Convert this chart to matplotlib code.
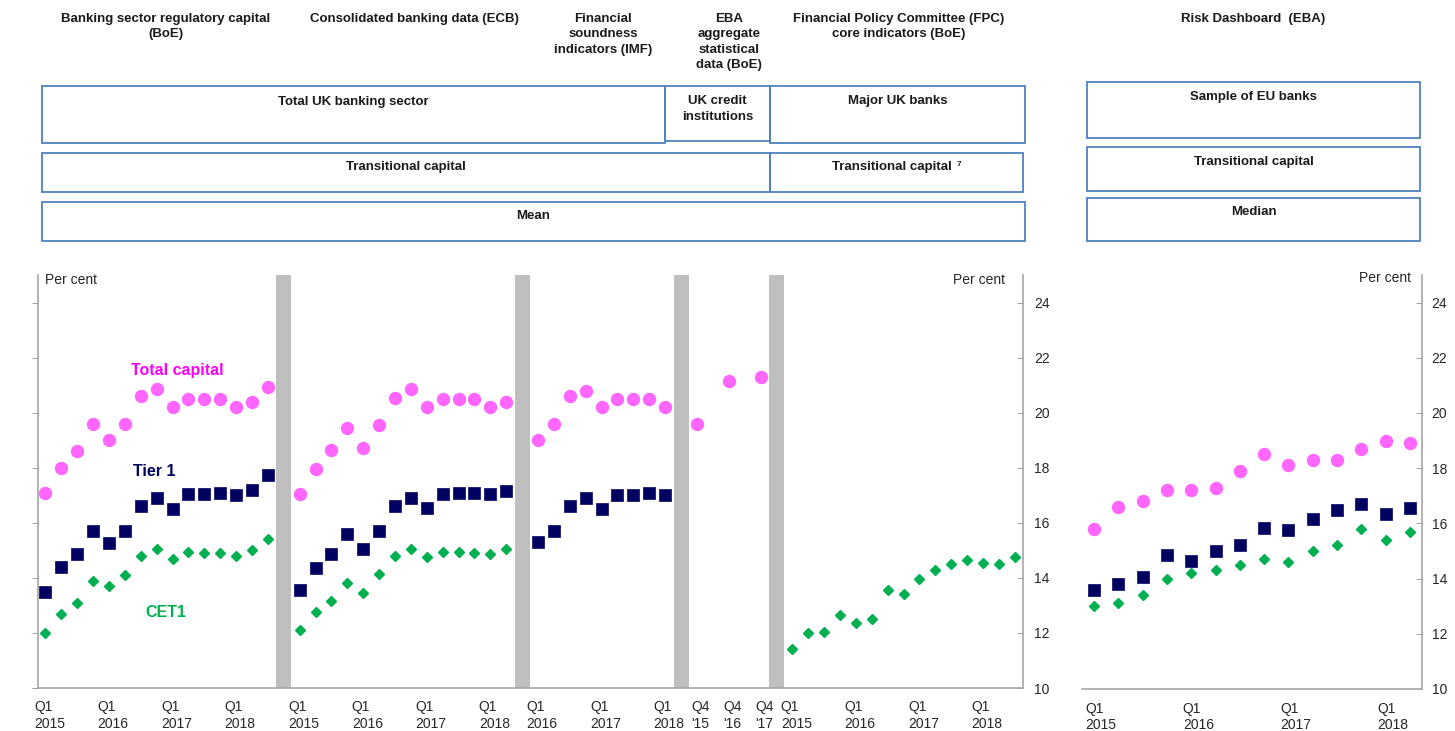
import numpy as np
import matplotlib.pyplot as plt
import matplotlib.transforms as mtransforms
from matplotlib.patches import Rectangle

plt.rcParams['font.family'] = ['Liberation Sans', 'DejaVu Sans']

W, H = 1455, 731
fig = plt.figure(figsize=(14.55, 7.31), dpi=100)


def fx(px):
    return px / W


def fy(py):
    return 1 - py / H


# ---- data (per cent) ----
boe_total = [17.1, 18.0, 18.6, 19.6, 19.0, 19.6, 20.6, 20.85, 20.2, 20.5, 20.5, 20.5, 20.2, 20.4, 20.95]
boe_tier1 = [13.5, 14.4, 14.85, 15.7, 15.25, 15.7, 16.6, 16.9, 16.5, 17.05, 17.05, 17.1, 17.0, 17.2, 17.75]
boe_cet1 = [12.0, 12.7, 13.1, 13.9, 13.7, 14.1, 14.8, 15.05, 14.7, 14.95, 14.9, 14.9, 14.8, 15.0, 15.4]

ecb_total = [17.05, 17.95, 18.65, 19.45, 18.7, 19.55, 20.55, 20.85, 20.2, 20.5, 20.5, 20.5, 20.2, 20.4]
ecb_tier1 = [13.55, 14.35, 14.85, 15.6, 15.05, 15.7, 16.6, 16.9, 16.55, 17.05, 17.1, 17.1, 17.05, 17.15]
ecb_cet1 = [12.1, 12.75, 13.15, 13.8, 13.45, 14.15, 14.8, 15.05, 14.75, 14.95, 14.95, 14.9, 14.85, 15.05]

imf_total = [19.0, 19.6, 20.6, 20.8, 20.2, 20.5, 20.5, 20.5, 20.2]
imf_tier1 = [15.3, 15.7, 16.6, 16.9, 16.5, 17.0, 17.0, 17.1, 17.0]

eba_ticks = ["Q4\n'15", "", "Q4\n'16", "", "Q4\n'17"]
eba_total = [19.6, None, 21.15, None, 21.3]

fpc_cet1 = [11.4, 12.0, 12.05, 12.65, 12.35, 12.5, 13.55, 13.4, 13.95, 14.3, 14.5, 14.65, 14.55, 14.5, 14.75]

eu_total = [15.8, 16.6, 16.8, 17.2, 17.2, 17.3, 17.9, 18.5, 18.1, 18.3, 18.3, 18.7, 19.0, 18.9]
eu_tier1 = [13.6, 13.8, 14.05, 14.85, 14.65, 15.0, 15.2, 15.85, 15.75, 16.15, 16.5, 16.7, 16.35, 16.55]
eu_cet1 = [13.0, 13.1, 13.4, 14.0, 14.2, 14.3, 14.5, 14.7, 14.6, 15.0, 15.2, 15.8, 15.4, 15.7]


def quarter_ticks(year, q, n):
    # only label the first quarter of each year
    out = []
    for _ in range(n):
        out.append(f'Q1\n{year}' if q == 1 else '')
        q += 1
        if q > 4:
            q = 1
            year += 1
    return out


def nudge(axis_obj, dx_px):
    # shift tick labels sideways a few pixels
    off = mtransforms.ScaledTranslation(dx_px / 100, 0, fig.dpi_scale_trans)
    for lab in axis_obj.get_xticklabels():
        lab.set_transform(lab.get_transform() + off)


styles = {
    'total': dict(marker='o', ms=8.6, color='#FF66FF', mec='#FF66FF'),
    'tier1': dict(marker='s', ms=8.4, color='#000060', mec='#1a1a70', mew=0.6),
    'cet1': dict(marker='D', ms=5.3, color='#00B050', mec='#00B050'),
}

segments = [
    (quarter_ticks(2015, 1, 15), {'total': boe_total, 'tier1': boe_tier1, 'cet1': boe_cet1}),
    (quarter_ticks(2015, 1, 14), {'total': ecb_total, 'tier1': ecb_tier1, 'cet1': ecb_cet1}),
    (quarter_ticks(2016, 1, 9), {'total': imf_total, 'tier1': imf_tier1}),
    (eba_ticks, {'total': eba_total}),
    (quarter_ticks(2015, 1, 15), {'cet1': fpc_cet1}),
]

spine_col = '#A6A6A6'
tick_col = '#262626'

# ---- main panel ----
ax = fig.add_axes([fx(37.5), fy(688), fx(1022.7) - fx(37.5), fy(275) - fy(688)])
pos = 0
gaps, tpos, tlab = [], [], []
for i, (labels, series) in enumerate(segments):
    x = np.arange(pos, pos + len(labels))
    for key, vals in series.items():
        v = np.array([np.nan if a is None else a for a in vals], dtype=float)
        ax.plot(x, v, ls='none', zorder=3, **styles[key])
    tpos.extend(x)
    tlab.extend(labels)
    pos += len(labels)
    if i < len(segments) - 1:
        gaps.append(pos)
        pos += 1

ax.bar(gaps, 15, bottom=10, width=0.95, color='#BFBFBF', zorder=1)
ax.set_xlim(-0.5, pos - 0.5)
ax.set_ylim(10, 25)
ax.set_xticks(tpos)
ax.set_xticklabels(tlab, fontsize=10, color=tick_col, linespacing=1.2, multialignment='left')
ax.tick_params(axis='x', length=0, pad=9)
nudge(ax, 4)
ax.set_yticks(np.arange(10, 25, 2))
ax.tick_params(axis='y', direction='out', length=4, color=spine_col, labelleft=False)
for s in ['top', 'right']:
    ax.spines[s].set_visible(False)
for s in ['left', 'bottom']:
    ax.spines[s].set_color(spine_col)
    ax.spines[s].set_linewidth(1.2)

ax2 = ax.twinx()
ax2.set_ylim(10, 25)
ax2.set_yticks(np.arange(10, 25, 2))
ax2.tick_params(axis='y', direction='in', length=4, color=spine_col, pad=8,
                labelsize=10, labelcolor=tick_col)
for s in ['top', 'left', 'bottom']:
    ax2.spines[s].set_visible(False)
ax2.spines['right'].set_color(spine_col)
ax2.spines['right'].set_linewidth(1.2)

ax.text(8.33, 21.53, 'Total capital', color='#FF00FF', fontsize=11.5, fontweight='bold',
        ha='center', va='center', zorder=4)
ax.text(6.86, 17.85, 'Tier 1', color='#000060', fontsize=11.5, fontweight='bold',
        ha='center', va='center', zorder=4)
ax.text(7.6, 12.76, 'CET1', color='#00B050', fontsize=11.5, fontweight='bold',
        ha='center', va='center', zorder=4)

# ---- right panel (EBA risk dashboard) ----
axr = fig.add_axes([fx(1082), fy(689), fx(1422) - fx(1082), fy(275) - fy(689)])
xr = np.arange(len(eu_total))
axr.plot(xr, eu_total, ls='none', zorder=3, **styles['total'])
axr.plot(xr, eu_tier1, ls='none', zorder=3, **styles['tier1'])
axr.plot(xr, eu_cet1, ls='none', zorder=3, **styles['cet1'])
axr.set_xlim(-0.5, len(eu_total) - 0.5)
axr.set_ylim(10, 25)
axr.set_xticks(xr)
axr.set_xticklabels(quarter_ticks(2015, 1, len(eu_total)), fontsize=10, color=tick_col,
                    linespacing=1.2, multialignment='left')
axr.tick_params(axis='x', length=0, pad=9)
nudge(axr, 7)
axr.yaxis.tick_right()
axr.set_yticks(np.arange(10, 25, 2))
axr.tick_params(axis='y', direction='in', length=4, color=spine_col, pad=7,
                labelsize=10, labelcolor=tick_col)
for s in ['top', 'left']:
    axr.spines[s].set_visible(False)
for s in ['right', 'bottom']:
    axr.spines[s].set_color(spine_col)
    axr.spines[s].set_linewidth(1.2)

fig.text(fx(45), fy(273), 'Per cent', fontsize=10, color=tick_col, ha='left', va='top')
fig.text(fx(1005), fy(273), 'Per cent', fontsize=10, color=tick_col, ha='right', va='top')
fig.text(fx(1411), fy(271), 'Per cent', fontsize=10, color=tick_col, ha='right', va='top')

# ---- headers ----
hdr = dict(fontsize=9.5, fontweight='bold', color='#1a1a1a', ha='center', va='top', linespacing=1.38)
fig.text(fx(166), fy(13), 'Banking sector regulatory capital\n(BoE)', **hdr)
fig.text(fx(414), fy(13), 'Consolidated banking data (ECB)', **hdr)
fig.text(fx(603), fy(13), 'Financial\nsoundness\nindicators (IMF)', **hdr)
fig.text(fx(729), fy(13), 'EBA\naggregate\nstatistical\ndata (BoE)', **hdr)
fig.text(fx(899), fy(13), 'Financial Policy Committee (FPC)\ncore indicators (BoE)', **hdr)
fig.text(fx(1253), fy(13), 'Risk Dashboard  (EBA)', **hdr)

box_col = '#4F81BD'
boxes = [
    (42, 86, 665, 143, 'Total UK banking sector', 102),
    (665, 86, 770, 141, 'UK credit\ninstitutions', 109),
    (770, 86, 1025, 143, 'Major UK banks', 101),
    (42, 153, 770, 192, 'Transitional capital', 167),
    (770, 153, 1023, 192, 'Transitional capital', 167),
    (42, 202, 1025, 241, 'Mean', 216),
    (1087, 82, 1420, 138, 'Sample of EU banks', 97),
    (1087, 147, 1420, 191, 'Transitional capital', 162),
    (1087, 198, 1420, 241, 'Median', 212),
]
for x0, y0, x1, y1, label, ty in boxes:
    fig.add_artist(Rectangle((fx(x0), fy(y1)), fx(x1) - fx(x0), fy(y0) - fy(y1),
                             transform=fig.transFigure, fill=False, ec=box_col, lw=1.3))
    fig.text(fx((x0 + x1) / 2 - (5 if ty == 167 and x0 == 770 else 0)), fy(ty), label,
             fontsize=9.5, fontweight='bold', color='#1a1a1a', ha='center', va='center',
             linespacing=1.35)
fig.text(fx(957), fy(164), '7', fontsize=6, fontweight='bold', color='#1a1a1a', ha='left', va='center')

fig.savefig('out.png', dpi=100)
